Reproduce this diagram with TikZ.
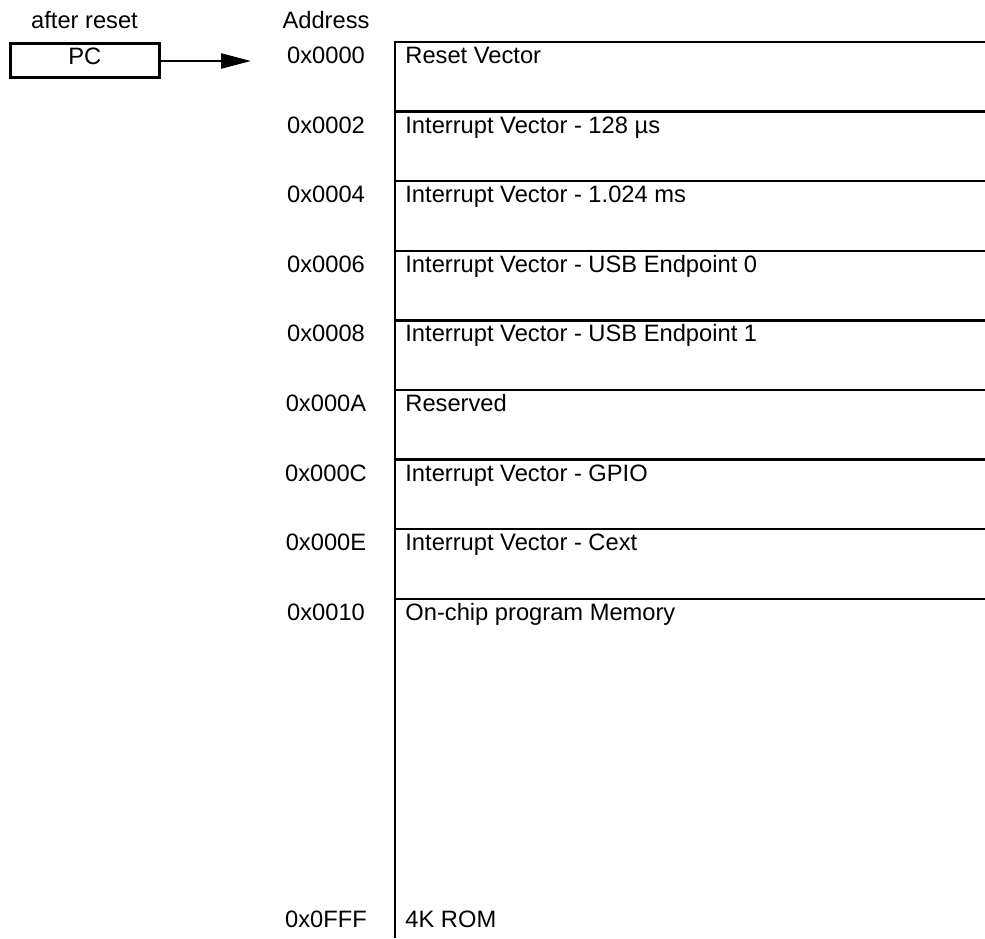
\documentclass[tikz,border=0pt]{standalone}
\usepackage{fontspec}
\setmainfont{Liberation Sans}
\usetikzlibrary{arrows.meta, positioning}
\tikzset{%
  reg/.style={draw, line width=1.25pt, rectangle, minimum width=74.5pt, inner sep=0pt, text height=10.5pt, text depth=6.5pt},
  head/.style={anchor=base, inner sep=0pt},
  addr/.style={anchor=base, inner sep=0pt},
  cell/.style={anchor=base west, inner sep=0pt},
  edge/.style={line width=1.25pt},
  move/.style={line width=1.25pt, -{Triangle[length=15pt,width=7.5pt]}}
}

\begin{document}
\begin{tikzpicture}[x=0.5pt, y=-0.5pt, font=\fontsize{11.85}{14}\selectfont]
  \useasboundingbox (0,0) rectangle (985,938);

  \node[head] (after) at (84.5,28.5) {after reset};
  \node[head] (address) at (326,28.5) {Address};

  \node[reg, anchor=north west] (pc) at (9,42) {PC};
  \coordinate (entry) at (251,61);
  \draw[move] (pc.east |- entry) -- (entry);

  % memory map
  \coordinate (top) at (395,42);
  \coordinate (bottom) at (395,938);
  \draw[edge] (bottom) -- (top) -- (985,42);
  \draw[edge] (395,111.6) -- (985,111.6);
  \draw[edge] (395,181.2) -- (985,181.2);
  \draw[edge] (395,250.8) -- (985,250.8);
  \draw[edge] (395,320.4) -- (985,320.4);
  \draw[edge] (395,390) -- (985,390);
  \draw[edge] (395,459.6) -- (985,459.6);
  \draw[edge] (395,529.2) -- (985,529.2);
  \draw[edge] (395,598.8) -- (985,598.8);

  \node[addr] (a0) at (326,63.5) {0x0000};
  \node[addr] (a1) at (326,133.1) {0x0002};
  \node[addr] (a2) at (326,202.7) {0x0004};
  \node[addr] (a3) at (326,272.3) {0x0006};
  \node[addr] (a4) at (326,341.9) {0x0008};
  \node[addr] (a5) at (326,411.5) {0x000A};
  \node[addr] (a6) at (326,481.1) {0x000C};
  \node[addr] (a7) at (326,550.7) {0x000E};
  \node[addr] (a8) at (326,620.3) {0x0010};
  \node[addr] (a9) at (326,927) {0x0FFF};

  \node[cell] (c0) at (405,63.5) {Reset Vector};
  \node[cell] (c1) at (405,133.1) {Interrupt Vector - 128 µs};
  \node[cell] (c2) at (405,202.7) {Interrupt Vector - 1.024 ms};
  \node[cell] (c3) at (405,272.3) {Interrupt Vector - USB Endpoint 0};
  \node[cell] (c4) at (405,341.9) {Interrupt Vector - USB Endpoint 1};
  \node[cell] (c5) at (405,411.5) {Reserved};
  \node[cell] (c6) at (405,481.1) {Interrupt Vector - GPIO};
  \node[cell] (c7) at (405,550.7) {Interrupt Vector - Cext};
  \node[cell] (c8) at (405,620.3) {On-chip program Memory};
  \node[cell] (c9) at (405,927) {4K ROM};
\end{tikzpicture}
\end{document}
